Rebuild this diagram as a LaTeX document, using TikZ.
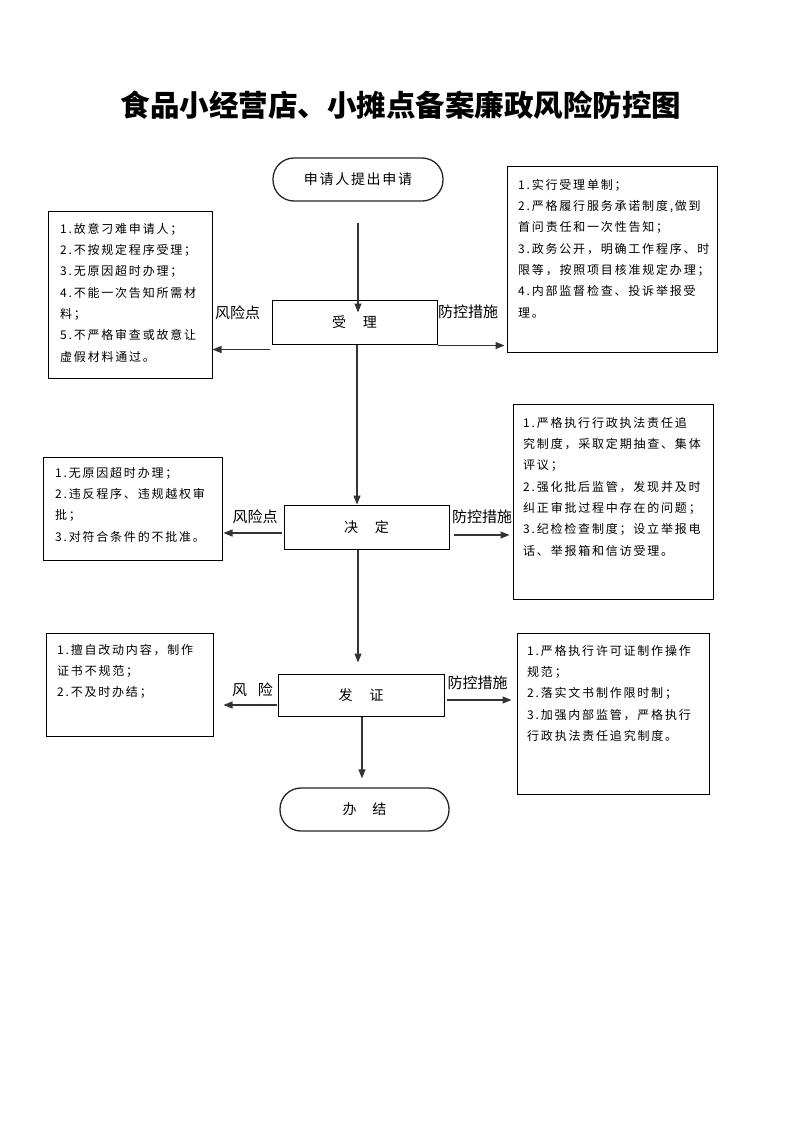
\documentclass[tikz,border=0pt]{standalone}
\usepackage{fontspec}
\setmainfont{Noto Sans CJK SC}
\newfontfamily\bodyfont[LetterSpace=15]{Noto Sans CJK SC}
\newfontfamily\termfont[LetterSpace=12]{Noto Sans CJK SC}
\usetikzlibrary{arrows.meta,calc}
\tikzset{
  flowbox/.style={draw=black,line width=1pt,inner sep=0pt,font=\fontsize{14pt}{16pt}\selectfont},
  termbox/.style={draw=black!85,line width=1.3pt,inner sep=0pt,rounded corners=21pt,font=\termfont\fontsize{14pt}{16pt}\selectfont},
  infobox/.style={draw=black,line width=1pt,inner sep=0pt},
  infotext/.style={anchor=north west,inner sep=0pt,align=left,font=\bodyfont\fontsize{12pt}{21.3pt}\selectfont},
  lab/.style={inner sep=0pt,font=\fontsize{15pt}{17pt}\selectfont},
  arr/.style={draw=black!80,line width=1.1pt,-{Triangle[length=9pt,width=7pt]}}
}
\begin{document}
\begin{tikzpicture}[x=1pt,y=-1pt]
\useasboundingbox[fill=white] (0,0) rectangle (793,1122);

% title
\node[inner sep=0pt,font=\bfseries\fontsize{29.5pt}{32pt}\selectfont] (title) at (401,105) {食品小经营店、小摊点备案廉政风险防控图};

% flow nodes
\node[termbox,minimum width=170pt,minimum height=43pt] (start) at (358,179.5) {申请人提出申请};
\node[flowbox,minimum width=165pt,minimum height=44pt] (shou) at (354.5,322) {受\hspace{17pt}理};
\node[flowbox,minimum width=165pt,minimum height=44pt] (jue) at (366.5,527) {决\hspace{17pt}定};
\node[flowbox,minimum width=166pt,minimum height=42pt] (fa) at (361,695) {发\hspace{17pt}证};
\node[termbox,minimum width=169pt,minimum height=43pt] (end) at (364.5,809.5) {办\hspace{16pt}结};

% info boxes
\node[infobox,minimum width=164pt,minimum height=167pt] (L1) at (130,294.5) {};
\node[infobox,minimum width=210pt,minimum height=186pt] (R1) at (612,259) {};
\node[infobox,minimum width=179pt,minimum height=103pt] (L2) at (132.5,508.5) {};
\node[infobox,minimum width=200pt,minimum height=195pt] (R2) at (613,501.5) {};
\node[infobox,minimum width=167pt,minimum height=103pt] (L3) at (129.5,684.5) {};
\node[infobox,minimum width=192pt,minimum height=161pt] (R3) at (613,713.5) {};

% info texts
\node[infotext] (tL1) at (60,223) {1.故意刁难申请人；\\2.不按规定程序受理；\\3.无原因超时办理；\\4.不能一次告知所需材\\料；\\5.不严格审查或故意让\\虚假材料通过。};
\node[infotext] (tR1) at (518,179) {1.实行受理单制；\\2.严格履行服务承诺制度,做到\\首问责任和一次性告知；\\3.政务公开，明确工作程序、时\\限等，按照项目核准规定办理；\\4.内部监督检查、投诉举报受\\理。};
\node[infotext] (tL2) at (55,467) {1.无原因超时办理；\\2.违反程序、违规越权审\\批；\\3.对符合条件的不批准。};
\node[infotext] (tR2) at (523,417) {1.严格执行行政执法责任追\\究制度，采取定期抽查、集体\\评议；\\2.强化批后监管，发现并及时\\纠正审批过程中存在的问题；\\3.纪检检查制度；设立举报电\\话、举报箱和信访受理。};
\node[infotext] (tL3) at (57,644) {1.擅自改动内容，制作\\证书不规范；\\2.不及时办结；};
\node[infotext] (tR3) at (527,645) {1.严格执行许可证制作操作\\规范；\\2.落实文书制作限时制；\\3.加强内部监管，严格执行\\行政执法责任追究制度。};

% labels
\node[lab] (lab1) at (237.5,313) {风险点};
\node[lab] (lab2) at (468,312) {防控措施};
\node[lab] (lab3) at (255,517) {风险点};
\node[lab] (lab4) at (482,517) {防控措施};
\node[lab] (lab5) at (252.5,690) {风\hspace{11pt}险};
\node[lab] (lab6) at (477.5,683) {防控措施};

% vertical arrows
\coordinate (v0) at ($(start.south)+(0,21)$);
\draw[arr] (v0) -- ($(v0 |- shou.north)+(0,13)$);
\coordinate (v1) at ($(shou.south)+(2.5,0)$);
\draw[arr] (v1) -- (v1 |- jue.north);
\coordinate (v2) at ($(jue.south)+(-8.5,0)$);
\draw[arr] (v2) -- ($(v2 |- fa.north)+(0,-11)$);
\coordinate (v3) at ($(fa.south)+(1,0)$);
\draw[arr] (v3) -- ($(v3 |- end.north)+(0,-9)$);

% horizontal arrows
\coordinate (h1) at ($(shou.south west)+(-2,5)$);
\draw[arr] (h1) -- (h1 -| L1.east);
\coordinate (h2) at ($(shou.south east)+(0,1)$);
\draw[arr] (h2) -- ($(h2 -| R1.west)+(-2,0)$);
\coordinate (h3) at ($(jue.west)+(-2,6)$);
\draw[arr] (h3) -- ($(h3 -| L2.east)+(1,0)$);
\coordinate (h4) at ($(jue.east)+(4,8)$);
\draw[arr] (h4) -- ($(h4 -| R2.west)+(-3,0)$);
\coordinate (h5) at ($(fa.west)+(-1,10)$);
\draw[arr] (h5) -- ($(h5 -| L3.east)+(10,0)$);
\coordinate (h6) at ($(fa.east)+(2,5)$);
\draw[arr] (h6) -- ($(h6 -| R3.west)+(-5,0)$);
\end{tikzpicture}
\end{document}
